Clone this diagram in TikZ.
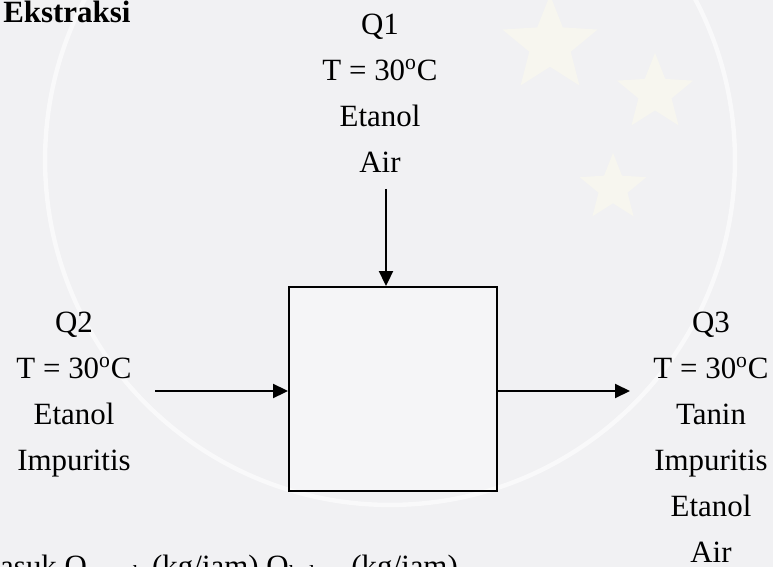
\documentclass[tikz,border=0pt]{standalone}
\usepackage{fontspec}
\setmainfont{Liberation Serif}
\usetikzlibrary{positioning,arrows.meta,shapes.geometric}

\definecolor{paperGray}{HTML}{F1F1F3}
\definecolor{sealGold}{HTML}{F7F6EF}

\begin{document}
\begin{tikzpicture}[x=0.02cm, y=-0.02cm,
        stream/.style = {align = center, inner sep = 0pt, anchor = north,
                         font = \fontsize{17.6}{26.2}\selectfont},
        flow/.style = {line width = 1.1pt, -{Triangle[length = 0.30cm, width = 0.28cm]}},
        unit/.style = {draw, line width = 1.1pt, fill = white, fill opacity = 0.35, text opacity = 1,
                       minimum width = 4.16cm, minimum height = 4.08cm, inner sep = 0pt},
        sealstar/.style = {star, star points = 5, star point ratio = 2.3, fill = sealGold, inner sep = 0pt}]

        \useasboundingbox (0, 0) rectangle (773, 567);
        \fill[paperGray] (0, 0) rectangle (773, 567);

        % faint seal in the background
        \foreach \i/\x/\y/\s in {1/550/45/2.0cm, 2/655/93/1.6cm, 3/613/188/1.4cm} {
            \node[sealstar, minimum size = \s] (star\i) at (\x, \y) {};
        }
        \draw[white, line width = 2.5pt, opacity = 0.6] (390, 160) circle (6.9cm);

        % extraction unit
        \node[unit] (ext) at (393, 389) {};

        \node[font = \fontsize{17.6}{26.2}\selectfont\bfseries, anchor = base west, inner sep = 0pt] (title) at (3, 23) {Ekstraksi};

        % feed and product streams
        \node[stream] (q1) at (380, 14) {Q1\\T = 30\textsuperscript{o}C\\Etanol\\Air};
        \node[stream] (q2) at (74, 312) {Q2\\T = 30\textsuperscript{o}C\\Etanol\\Impuritis};
        \node[stream] (q3) at (711, 312) {Q3\\T = 30\textsuperscript{o}C\\Tanin\\Impuritis\\Etanol\\Air};

        \coordinate (in1) at (386, 189);
        \coordinate (in2) at (155, 391);
        \coordinate (out3) at (630, 391);

        \draw[flow] (in1) -- (in1 |- ext.north);
        \draw[flow] (in2) -- (in2 -| ext.west);
        \draw[flow] (ext.east |- out3) -- (out3);

        % table header below, cut by the page edge
        \node[font = \fontsize{17.6}{26.2}\selectfont, anchor = base west, inner sep = 0pt] (head) at (-27.6, 576)
            {Masuk Q\textsubscript{masuk} (kg/jam) Q\textsubscript{keluar} (kg/jam)};

\end{tikzpicture}
\end{document}
